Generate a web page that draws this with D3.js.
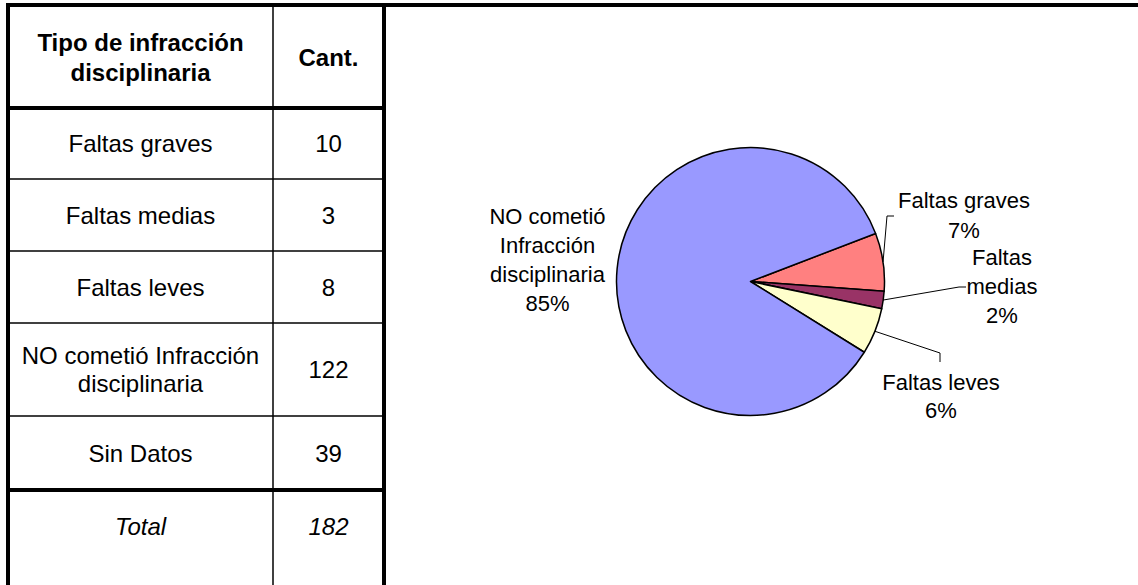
<!DOCTYPE html>
<html>
<head>
<meta charset="utf-8">
<script src="https://cdn.jsdelivr.net/npm/d3@7"></script>
<style>
  html, body { margin: 0; padding: 0; background: #fff; }
  svg { display: block; font-family: "Liberation Sans", Arial, sans-serif; }
</style>
</head>
<body>
<div id="chart"></div>
<script>
// ---- data ----
const headers = ["Tipo de infracción disciplinaria", "Cant."];
const categories = ["Faltas graves", "Faltas medias", "Faltas leves", "NO cometió Infracción disciplinaria", "Sin Datos"];
const counts = [10, 3, 8, 122, 39];
const totalLabel = "Total";
const totalCount = 182;

// pie uses the first four rows (Sin Datos left out)
const pieCategories = categories.slice(0, 4);
const pieValues = counts.slice(0, 4);
const pieColors = ["#FF8080", "#993366", "#FFFFCC", "#9999FF"];

// ---- layout ----
const W = 1138, H = 585;
const colX = [8, 273, 384];                       // table vertical lines
const rowY = [5, 108, 179, 251, 323, 416, 490, 562]; // table horizontal lines
const thickRows = [0, 1, 6];
const tableFont = 24, labelFont = 22;

const svg = d3.select("#chart").append("svg")
  .attr("width", W).attr("height", H);

// ---- table ----
function wrap(text, maxWidth, size) {
  const ctx = document.createElement("canvas").getContext("2d");
  ctx.font = `${size}px "Liberation Sans", Arial`;
  const words = text.split(" ");
  const lines = [];
  let line = "";
  words.forEach(w => {
    const test = line ? line + " " + w : w;
    if (ctx.measureText(test).width > maxWidth && line) {
      lines.push(line);
      line = w;
    } else line = test;
  });
  lines.push(line);
  return lines;
}

function cellText(g, str, cx, cy, size, maxW, pitch, opts = {}) {
  const lines = wrap(str, maxW, size);
  const t = g.append("text")
    .attr("text-anchor", "middle")
    .style("font-size", size + "px")
    .style("font-weight", opts.bold ? "bold" : null)
    .style("font-style", opts.italic ? "italic" : null)
    .attr("fill", "#000");
  const y0 = cy - (lines.length - 1) * pitch / 2 + size * 0.358;
  lines.forEach((l, i) => {
    t.append("tspan").attr("x", cx).attr("y", y0 + i * pitch).text(l);
  });
}

const table = svg.append("g");
const c1 = (colX[0] + colX[1]) / 2, c2 = (colX[1] + colX[2]) / 2;

// header
cellText(table, headers[0], c1, (rowY[0] + rowY[1]) / 2 + 1, tableFont, 240, 30, { bold: true });
cellText(table, headers[1], c2, (rowY[0] + rowY[1]) / 2 + 1, tableFont, 100, 30, { bold: true });

// body rows
categories.forEach((cat, i) => {
  const cy = (rowY[i + 1] + rowY[i + 2]) / 2;
  cellText(table, cat, c1, cy, tableFont, 255, 28);
  cellText(table, String(counts[i]), c2, cy, tableFont, 100, 28);
});
const totY = (rowY[6] + rowY[7]) / 2;
cellText(table, totalLabel, c1, totY, tableFont, 255, 28, { italic: true });
cellText(table, String(totalCount), c2, totY, tableFont, 100, 28, { italic: true });

// grid lines
rowY.slice(1, 7).forEach((y, i) => {
  const thick = thickRows.includes(i + 1);
  table.append("line")
    .attr("x1", colX[0]).attr("x2", colX[2])
    .attr("y1", y).attr("y2", y)
    .attr("stroke", "#000").attr("stroke-width", thick ? 4 : 1.5);
});
table.append("line")
  .attr("x1", colX[1]).attr("x2", colX[1])
  .attr("y1", rowY[0]).attr("y2", H)
  .attr("stroke", "#000").attr("stroke-width", 1.5);
table.append("line")
  .attr("x1", colX[0]).attr("x2", colX[0])
  .attr("y1", rowY[0] - 2).attr("y2", H)
  .attr("stroke", "#000").attr("stroke-width", 4);
table.append("line")
  .attr("x1", colX[2]).attr("x2", colX[2])
  .attr("y1", rowY[0]).attr("y2", H)
  .attr("stroke", "#000").attr("stroke-width", 4);
// top border runs across the whole page
table.append("line")
  .attr("x1", colX[0] - 2).attr("x2", W)
  .attr("y1", rowY[0]).attr("y2", rowY[0])
  .attr("stroke", "#000").attr("stroke-width", 4);

// ---- pie ----
const cx = 750.5, cy = 281.5, r = 134;
const start = 69 * Math.PI / 180;
const pie = d3.pie().sort(null).value(d => d.v)
  .startAngle(start).endAngle(start + 2 * Math.PI);
const arcs = pie(pieCategories.map((c, i) => ({ c, v: pieValues[i], color: pieColors[i] })));
const arc = d3.arc().innerRadius(0).outerRadius(r);
const edge = d3.arc().innerRadius(r).outerRadius(r);

const pg = svg.append("g").attr("transform", `translate(${cx},${cy})`);
pg.selectAll("path.slice")
  .data(arcs)
  .join("path")
  .attr("class", "slice")
  .attr("d", arc)
  .attr("fill", d => d.data.color)
  .attr("stroke", "#000")
  .attr("stroke-width", 1.5)
  .attr("stroke-linejoin", "round");

const pct = d3.format(".0%");
const pieTotal = d3.sum(pieValues);

// label placement per slice: centre x, first-line centre y, wrap width, leader bend points
const labelLayout = [
  { x: 964, y: 200.5, w: 150, pitch: 29.5, leader: [[887, 216], [894, 216]] },
  { x: 1002, y: 257.5, w: 75, pitch: 29, leader: [[959, 287], [966, 287]] },
  { x: 941, y: 382.5, w: 150, pitch: 28, leader: [[940, 353], [940, 362]] },
  { x: 547.5, y: 216, w: 130, pitch: 29, leader: null }
];

const lg = svg.append("g");
arcs.forEach((a, i) => {
  const L = labelLayout[i];
  const lines = wrap(a.data.c, L.w, labelFont);
  lines.push(pct(a.data.v / pieTotal));
  const t = lg.append("text")
    .attr("text-anchor", "middle")
    .style("font-size", labelFont + "px")
    .attr("fill", "#000");
  lines.forEach((l, j) => {
    t.append("tspan").attr("x", L.x)
      .attr("y", L.y + j * L.pitch + labelFont * 0.358).text(l);
  });
  if (L.leader) {
    const p = edge.centroid(a);
    const pts = [[cx + p[0], cy + p[1]], ...L.leader];
    lg.append("path")
      .attr("d", d3.line()(pts))
      .attr("fill", "none")
      .attr("stroke", "#000")
      .attr("stroke-width", 1);
  }
});
</script>
</body>
</html>
